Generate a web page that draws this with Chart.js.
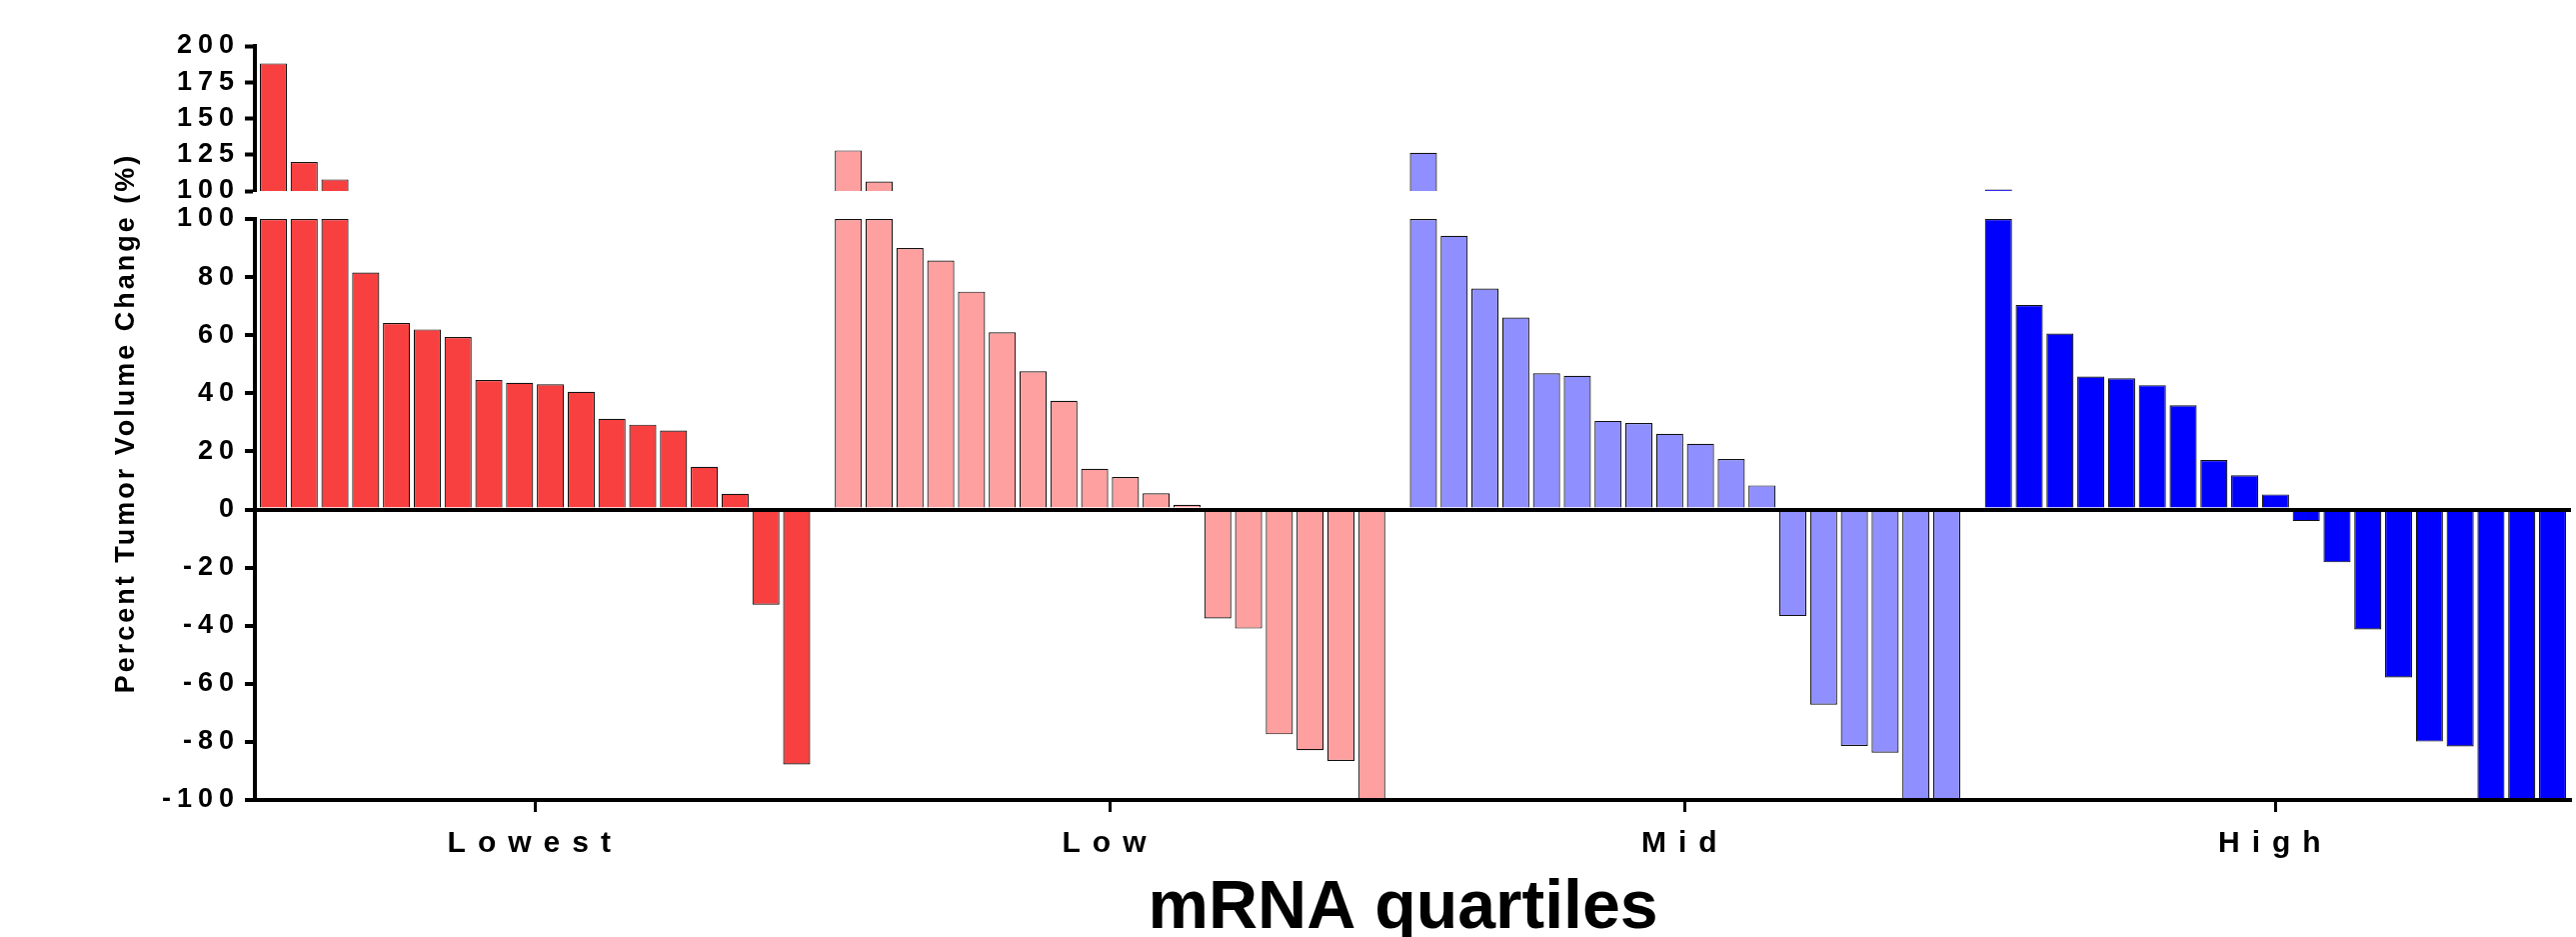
<!DOCTYPE html>
<html lang="en">
<head>
<meta charset="UTF-8">
<title>Percent Tumor Volume Change by mRNA quartiles</title>
<script src="https://cdn.jsdelivr.net/npm/chart.js"></script>
<style>
    html, body { margin: 0; padding: 0; background: #fff; }
    #wrap { width: 2577px; height: 937px; }
</style>
</head>
<body>
<div id="wrap"><canvas id="waterfall" width="2577" height="937"></canvas></div>
<script>
// quartile groups, left to right
var groupNames = ['Lowest', 'Low', 'Mid', 'High'];
var groupColors = ['#F94040', '#FFA0A0', '#8F8FFF', '#0000FF'];

// percent tumor volume change per patient, in the order of the figure
var lowestValues = [188, 120, 108, 81.6, 64.2, 62.0, 59.4, 44.6, 43.6, 43.1, 40.5, 31.2, 29.2, 27.2, 14.7, 5.4, -32.8, -87.8];
var lowValues = [128, 106.6, 90.0, 85.7, 75.0, 61.0, 47.6, 37.4, 14.0, 11.2, 5.6, 1.6, -37.5, -41.0, -77.4, -82.9, -86.6, -100];
var midValues = [126.3, 94.2, 76.1, 66.1, 46.9, 46.0, 30.5, 29.8, 26.1, 22.6, 17.4, 8.3, -36.7, -67.2, -81.4, -83.7, -100, -100];
var highValues = [101, 70.4, 60.6, 45.8, 45.2, 42.8, 35.9, 17.0, 11.8, 5.2, -4.0, -18.2, -41.3, -57.8, -79.9, -81.6, -100, -100, -100];

// broken y axis: lower part (-100..100) and upper part (100..200)
var lowerTicks = [-100, -80, -60, -40, -20, 0, 20, 40, 60, 80, 100];
var upperTicks = [100, 125, 150, 175, 200];

var GROUP_GAP = 0.68; // extra room between quartiles, in bar slots
var FONT = '"Liberation Sans", Arial, sans-serif';

// build the bar lists from the groups
var groups = [lowestValues, lowValues, midValues, highValues];
var lowerData = [], lowerColors = [], upperData = [], upperColors = [], groupCenters = [];
var pos = 0;
groups.forEach(function (vals, g) {
    var start = pos;
    vals.forEach(function (v) {
        lowerData.push({ x: pos, y: Math.max(-100, Math.min(100, v)) });
        lowerColors.push(groupColors[g]);
        if (v > 100) {
            upperData.push({ x: pos, y: [100, v] });
            upperColors.push(groupColors[g]);
        }
        pos += 1;
    });
    groupCenters.push((start + pos - 1) / 2);
    pos += GROUP_GAP;
});
var lastPos = pos - 1 - GROUP_GAP;

var tickFont = { family: FONT, size: 27, weight: 'bold' };

// texts with letter spacing are drawn here
var textPlugin = {
    id: 'quartileText',
    beforeDraw: function (chart) {
        chart.ctx.letterSpacing = '6px';
    },
    afterDraw: function (chart) {
        var ctx = chart.ctx, area = chart.chartArea, xs = chart.scales.x;
        ctx.save();
        ctx.fillStyle = '#000';
        ctx.textAlign = 'center';
        ctx.textBaseline = 'alphabetic';

        ctx.font = 'bold 30px ' + FONT;
        ctx.letterSpacing = '12px';
        groupNames.forEach(function (name, i) {
            ctx.fillText(name, xs.getPixelForValue(groupCenters[i]), 852);
        });

        ctx.letterSpacing = '0px';
        ctx.font = 'bold 68px ' + FONT;
        ctx.fillText('mRNA quartiles', (area.left + area.right) / 2 - 10, 928);

        ctx.font = 'bold 27px ' + FONT;
        ctx.letterSpacing = '3px';
        ctx.translate(134, (area.top + area.bottom) / 2);
        ctx.rotate(-Math.PI / 2);
        ctx.fillText('Percent Tumor Volume Change (%)', 0, 0);
        ctx.restore();
        ctx.letterSpacing = '0px';
    }
};

var barStyle = {
    borderColor: '#111',
    borderWidth: 1.2,
    barPercentage: 0.88,
    categoryPercentage: 1,
    grouped: false
};

var ctx = document.getElementById('waterfall').getContext('2d');
var chart = new Chart(ctx, {
    type: 'bar',
    data: {
        datasets: [
            Object.assign({ label: 'lower', data: lowerData, yAxisID: 'yLow', backgroundColor: lowerColors }, barStyle),
            Object.assign({ label: 'upper', data: upperData, yAxisID: 'yUp', backgroundColor: upperColors }, barStyle)
        ]
    },
    options: {
        responsive: false,
        devicePixelRatio: 1,
        animation: false,
        layout: { padding: { top: 46, right: 5, left: 0, bottom: 0 } },
        plugins: { legend: { display: false }, tooltip: { enabled: false } },
        scales: {
            x: {
                type: 'linear',
                position: 'bottom',
                offset: false,
                min: -0.6,
                max: lastPos + 0.6,
                afterBuildTicks: function (s) { s.ticks = groupCenters.map(function (v) { return { value: v }; }); },
                afterFit: function (s) { s.height = 137; },
                ticks: { display: false, autoSkip: false },
                grid: { offset: false, drawOnChartArea: false, drawTicks: true, tickLength: 12, tickWidth: 3, tickColor: '#000' },
                border: { display: true, color: '#000', width: 4, z: 1 }
            },
            yUp: {
                type: 'linear',
                position: 'left',
                stack: 'y',
                stackWeight: 145,
                weight: 3,
                min: 100,
                max: 200,
                afterBuildTicks: function (s) { s.ticks = upperTicks.map(function (v) { return { value: v }; }); },
                afterFit: function (s) { s.width = 255; },
                ticks: { font: tickFont, color: '#000', padding: 5, autoSkip: false },
                grid: { drawOnChartArea: false, tickLength: 10, tickWidth: 4, tickColor: '#000' },
                border: { display: true, color: '#000', width: 4, z: 1 }
            },
            yGap: {
                type: 'linear',
                position: 'left',
                stack: 'y',
                stackWeight: 28,
                weight: 2,
                min: 0,
                max: 1,
                afterFit: function (s) { s.width = 255; },
                ticks: { display: false },
                grid: { display: false },
                border: { display: false }
            },
            yLow: {
                type: 'linear',
                position: 'left',
                stack: 'y',
                stackWeight: 581,
                weight: 1,
                min: -100,
                max: 100,
                afterBuildTicks: function (s) { s.ticks = lowerTicks.map(function (v) { return { value: v }; }); },
                afterFit: function (s) { s.width = 255; },
                ticks: { font: tickFont, color: '#000', padding: 5, autoSkip: false },
                grid: {
                    z: 1,
                    color: function (c) { return c.tick && c.tick.value === 0 ? '#000' : 'rgba(0,0,0,0)'; },
                    lineWidth: function (c) { return c.tick && c.tick.value === 0 ? 4 : 0; },
                    tickLength: 10, tickWidth: 4, tickColor: '#000'
                },
                border: { display: true, color: '#000', width: 4, z: 1 }
            }
        }
    },
    plugins: [textPlugin]
});
</script>
</body>
</html>
